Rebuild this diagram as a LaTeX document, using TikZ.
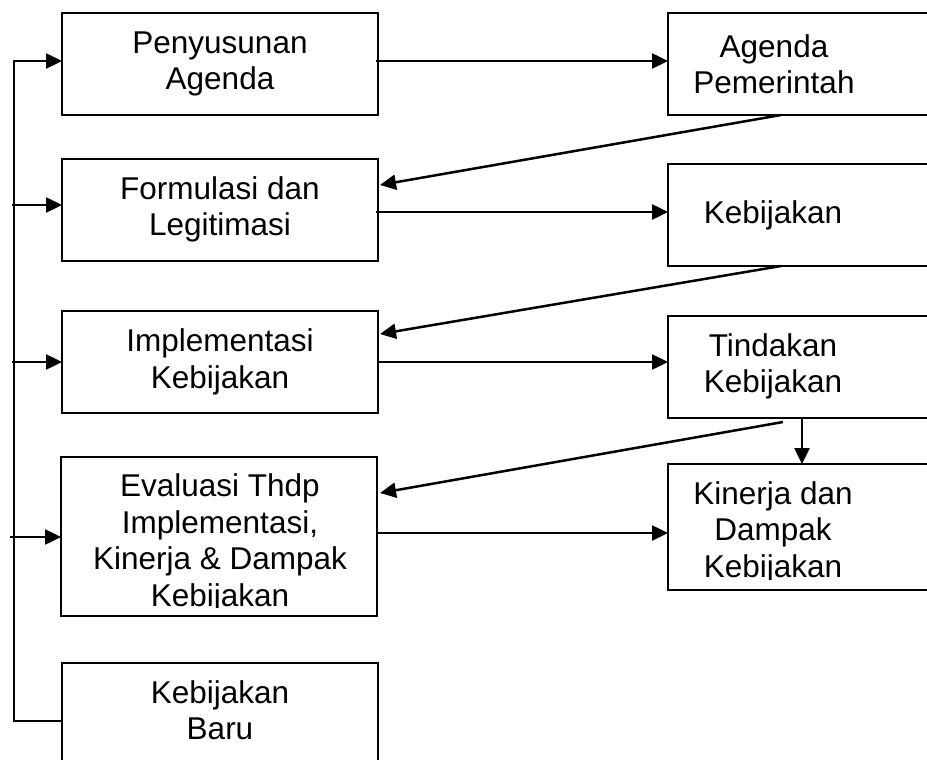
\documentclass[tikz,border=0pt]{standalone}
\usepackage{fontspec}
\setmainfont{Liberation Sans}
\usetikzlibrary{arrows.meta}

\begin{document}
\begin{tikzpicture}[x={(1pt,0)}, y={(0,-1pt)},
  box/.style={draw=black, line width=2pt, inner sep=0pt, outer sep=0pt, anchor=north west},
  lbox/.style={box, minimum width=316pt, minimum height=102pt},
  rbox/.style={box, minimum width=300pt, minimum height=102pt},
  txt/.style={align=center, inner sep=0pt, font=\fontsize{31.5}{36.5}\selectfont},
  conn/.style={line width=2.5pt, -{Triangle[length=16pt,width=15pt]}}]
\useasboundingbox (0,0) rectangle (927,760);

% stages of the policy cycle (left column)
\node[lbox] (b1) at (62,13) {};
\node[lbox] (b2) at (62,159) {};
\node[lbox] (b3) at (62,311) {};
\node[lbox, minimum height=159pt] (b4) at (61,457) {};
\node[lbox, minimum height=140pt] (b5) at (62,663) {};

% outcomes (right column, running off the page edge)
\node[rbox] (r1) at (668,13) {};
\node[rbox] (r2) at (668,164) {};
\node[rbox] (r3) at (668,316) {};
\node[rbox, minimum height=126pt] (r4) at (668,464) {};

% labels
\node[txt] (t1) at (220,64) {Penyusunan\\Agenda};
\node[txt] (t2) at (220,209.5) {Formulasi dan\\Legitimasi};
\node[txt] (t3) at (220,362) {Implementasi\\Kebijakan};
\begin{scope}
  \clip (61,457) rectangle (378,607);
  \node[txt] (t4) at (220,543.5) {Evaluasi Thdp\\Implementasi,\\Kinerja \& Dampak\\Kebijakan};
\end{scope}
\node[txt] (t5) at (220,710) {Kebijakan\\Baru};

\node[txt] (u1) at (774,64) {Agenda\\Pemerintah};
\node[txt] (u2) at (773,215) {Kebijakan};
\node[txt] (u3) at (773,366.5) {Tindakan\\Kebijakan};
\begin{scope}
  \clip (668,464) rectangle (927,579);
  \node[txt] (u4) at (773,532.5) {Kinerja dan\\Dampak\\Kebijakan};
\end{scope}

% feedback bus on the left
\coordinate (busTop) at (14,61);
\coordinate (busBot) at (14,721);
\coordinate (f2) at (12,205);
\coordinate (f3) at (12,362);
\coordinate (f4) at (10,537);
\draw[conn] (b5.west |- busBot) -- (busBot) -- (busTop) -- (b1.west |- busTop);
\draw[conn] (f2) -- (b2.west |- f2);
\draw[conn] (f3) -- (b3.west |- f3);
\draw[conn] (f4) -- (b4.west |- f4);

% stage -> outcome
\draw[conn] (376,61) -- (r1.west |- 0,61);
\draw[conn] (376,212) -- (r2.west |- 0,212);
\draw[conn] (378,362) -- (r3.west |- 0,362);
\draw[conn] (378,533) -- (r4.west |- 0,533);

% outcome -> next stage
\draw[conn] (781,0 |- r1.south) -- (380,185);
\draw[conn] (781,0 |- r2.south) -- (380,334);
\draw[conn] (783,422) -- (380,493);
\draw[conn] (802,0 |- r3.south) -- (802,0 |- r4.north);
\end{tikzpicture}
\end{document}
